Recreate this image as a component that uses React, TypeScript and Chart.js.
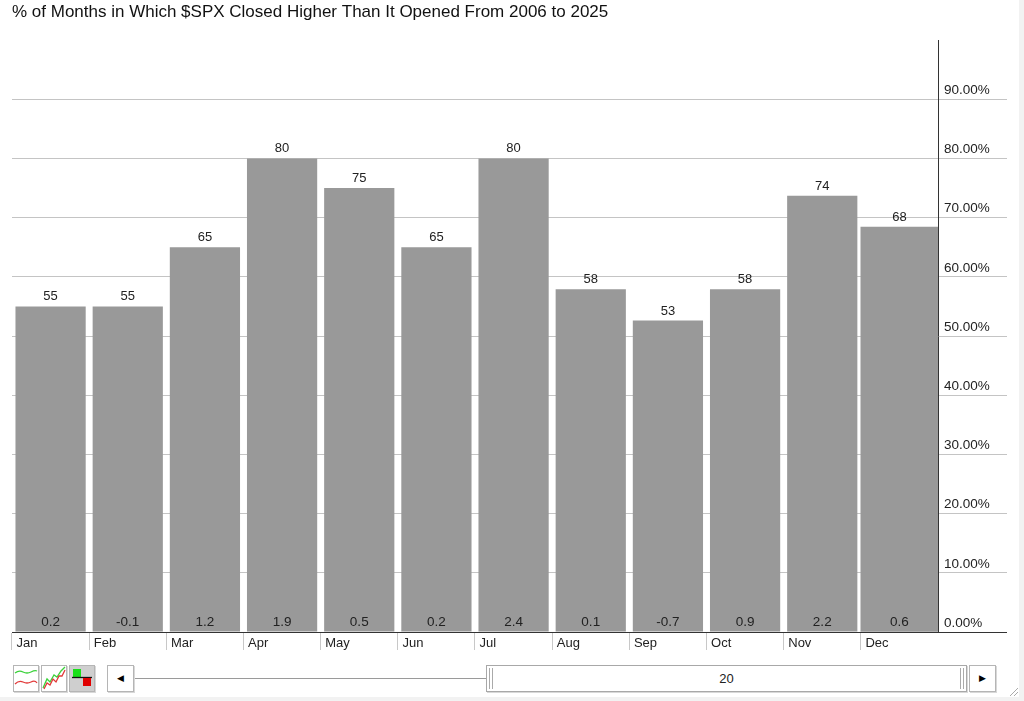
import { useEffect, useRef } from 'react';
import { Chart, registerables } from 'chart.js';

Chart.register(...registerables);

// % of months closing higher than open, per calendar month (2006-2025)
const months = ['Jan', 'Feb', 'Mar', 'Apr', 'May', 'Jun', 'Jul', 'Aug', 'Sep', 'Oct', 'Nov', 'Dec'];
const pctHigher = [55, 55, 65, 80, 75, 65, 80, 57.9, 52.6, 57.9, 73.7, 68.4];
// average % change shown at the foot of each bar
const avgChange = [0.2, -0.1, 1.2, 1.9, 0.5, 0.2, 2.4, 0.1, -0.7, 0.9, 2.2, 0.6];
const yMax = 100;
const yStep = 10;

const FONT = '"Liberation Sans", Arial, Helvetica, sans-serif';
const BAR = '#999999';

const barLabels = {
  id: 'barLabels',
  afterDatasetsDraw(chart: any) {
    const { ctx, chartArea } = chart;
    ctx.save();
    ctx.fillStyle = '#222';
    ctx.textAlign = 'center';
    chart.data.datasets.forEach((ds: any, di: number) => {
      const meta = chart.getDatasetMeta(di);
      meta.data.forEach((bar: any, i: number) => {
        const v = ds.data[i];
        if (v == null) return;
        ctx.font = `13px ${FONT}`;
        ctx.textBaseline = 'bottom';
        ctx.fillText(String(Math.round(v)), bar.x, bar.y - 3);
        ctx.font = `13.5px ${FONT}`;
        ctx.textBaseline = 'middle';
        ctx.fillText(avgChange[i].toFixed(1), bar.x, chartArea.bottom - 10);
      });
    });
    ctx.restore();
  },
};

const btn: React.CSSProperties = {
  position: 'absolute',
  boxSizing: 'border-box',
  border: '1px solid #b5b5b5',
  boxShadow: '1px 1px 0 #d8d8d8',
  background: '#fff',
};

function Controls() {
  return (
    <>
      <div style={{ ...btn, left: 13, top: 665, width: 26, height: 27 }}>
        <svg width="24" height="25">
          <path d="M1 7 Q5 4 9 6 T17 6 T23 5" stroke="#3ad23a" strokeWidth="1.3" fill="none" />
          <path d="M1 18 Q5 14 9 16 T17 16 T23 17" stroke="#e23a3a" strokeWidth="1.3" fill="none" />
        </svg>
      </div>
      <div style={{ ...btn, left: 41, top: 665, width: 26, height: 27 }}>
        <svg width="24" height="25">
          <path d="M1 22 L5 13 L8 16 L12 9 L15 11 L19 5 L23 1" stroke="#3ad23a" strokeWidth="1.3" fill="none" />
          <path d="M2 23 L5 17 L8 19 L11 13 L14 16 L17 10 L20 10 L23 4" stroke="#e23a3a" strokeWidth="1.3" fill="none" />
        </svg>
      </div>
      <div style={{ ...btn, left: 69, top: 665, width: 26, height: 27, background: '#cfcfcf' }}>
        <svg width="24" height="25">
          <rect x="3" y="3" width="8" height="8" fill="#19e019" />
          <line x1="2" y1="11.5" x2="22" y2="11.5" stroke="#111" strokeWidth="1.3" />
          <rect x="13" y="12" width="8" height="8" fill="#e00000" />
        </svg>
      </div>
      <div style={{ ...btn, left: 107, top: 665, width: 27, height: 27, fontSize: 9, textAlign: 'center', lineHeight: '25px' }}>
        ◀
      </div>
      <div style={{ position: 'absolute', left: 135, top: 678, width: 352, height: 1, background: '#9a9a9a' }} />
      <div
        style={{
          ...btn,
          left: 486,
          top: 665,
          width: 481,
          height: 27,
          borderColor: '#a8a8a8',
          fontFamily: FONT,
          fontSize: 13,
          color: '#222',
          textAlign: 'center',
          lineHeight: '25px',
        }}
      >
        <div style={{ position: 'absolute', left: 2, top: 2, width: 2, height: 21, borderLeft: '1px solid #aaa', borderRight: '1px solid #aaa' }} />
        20
        <div style={{ position: 'absolute', right: 2, top: 2, width: 2, height: 21, borderLeft: '1px solid #aaa', borderRight: '1px solid #aaa' }} />
      </div>
      <div style={{ ...btn, left: 969, top: 665, width: 27, height: 27, fontSize: 9, textAlign: 'center', lineHeight: '25px' }}>
        ▶
      </div>
      <svg style={{ position: 'absolute', left: 1008, top: 686 }} width="11" height="11">
        <line x1="2" y1="10" x2="10" y2="2" stroke="#aaa" />
        <line x1="6" y1="10" x2="10" y2="6" stroke="#aaa" />
      </svg>
    </>
  );
}

export default function App() {
  const canvasRef = useRef<HTMLCanvasElement>(null);
  const chartRef = useRef<Chart | null>(null);

  useEffect(() => {
    const ctx = canvasRef.current?.getContext('2d');
    if (!ctx) return;
    chartRef.current?.destroy();

    // the last bar is drawn a bit wider, right up to the axis
    const last = months.length - 1;
    const mainData = pctHigher.map((v, i) => (i === last ? null : v));
    const lastData = pctHigher.map((v, i) => (i === last ? v : null));

    chartRef.current = new Chart(ctx, {
      type: 'bar',
      data: {
        labels: months,
        datasets: [
          { data: mainData, backgroundColor: BAR, barPercentage: 0.91, categoryPercentage: 1, grouped: false },
          { data: lastData, backgroundColor: BAR, barPercentage: 1.0, categoryPercentage: 1, grouped: false },
        ],
      },
      options: {
        responsive: true,
        maintainAspectRatio: false,
        animation: false,
        layout: { padding: { left: 12, right: 0, top: 0, bottom: 0 } },
        plugins: {
          legend: { display: false },
          tooltip: { enabled: false },
          title: {
            display: true,
            text: '% of Months in Which $SPX Closed Higher Than It Opened From 2006 to 2025',
            align: 'start',
            color: '#111',
            font: { family: FONT, size: 17, weight: 'normal' },
            padding: { top: 2, bottom: 17.6 },
          },
        },
        scales: {
          x: {
            offset: true,
            afterFit: (s: any) => {
              s.height = 28;
            },
            grid: {
              offset: true,
              drawOnChartArea: false,
              tickLength: 18,
              color: (c: any) => (c.tick ? '#c8c8c8' : 'transparent'),
            },
            border: { color: '#333' },
            ticks: {
              align: 'start',
              labelOffset: -34,
              padding: -14,
              autoSkip: false,
              maxRotation: 0,
              color: '#222',
              font: { family: FONT, size: 13 },
            },
          },
          y: {
            position: 'right',
            min: 0,
            max: yMax,
            afterFit: (s: any) => {
              s.width = 81;
            },
            grid: {
              tickLength: 69,
              color: (c: any) => {
                const v = c.tick?.value;
                if (v === 0) return '#333';
                if (v === yMax) return 'transparent';
                return '#c4c4c4';
              },
            },
            border: { color: '#333' },
            ticks: {
              stepSize: yStep,
              padding: -63,
              labelOffset: -9,
              crossAlign: 'near',
              color: '#222',
              font: { family: FONT, size: 13.5 },
              callback: (v: any) => (Number(v) >= yMax ? '' : Number(v).toFixed(2) + '%'),
            },
          },
        },
      },
      plugins: [barLabels],
    });

    return () => {
      chartRef.current?.destroy();
      chartRef.current = null;
    };
  }, []);

  return (
    <div style={{ position: 'absolute', left: 0, top: 0, width: 1024, height: 701, background: '#f2f2f2', fontFamily: FONT }}>
      <div style={{ position: 'absolute', left: 0, top: 0, width: 1019, height: 697, background: '#fff' }}>
        <div style={{ position: 'relative', width: 1019, height: 660 }}>
          <canvas ref={canvasRef}></canvas>
        </div>
        <Controls />
      </div>
    </div>
  );
}
